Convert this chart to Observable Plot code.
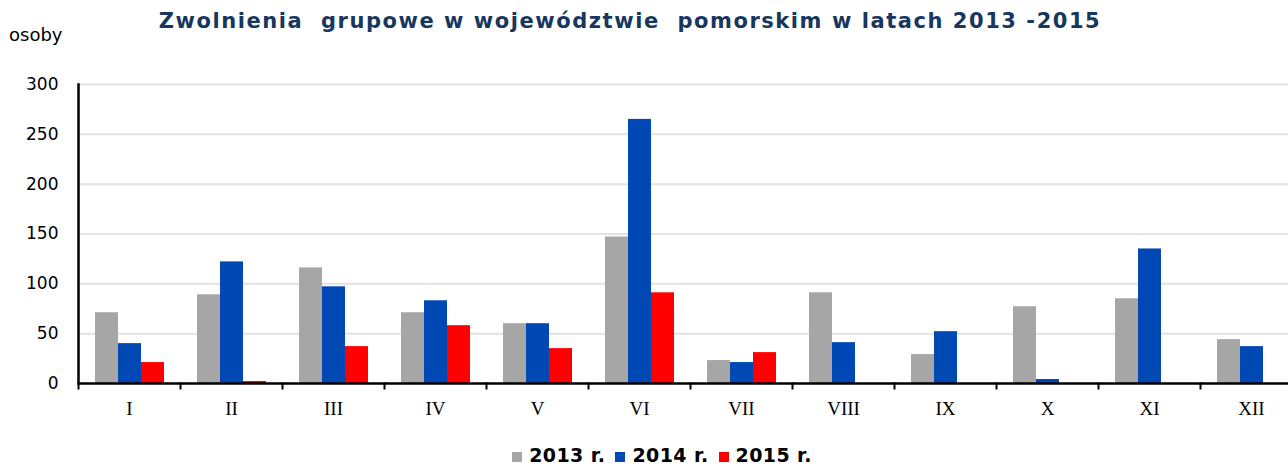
<!DOCTYPE html>
<html>
<head>
<meta charset="utf-8">
<script src="https://cdn.jsdelivr.net/npm/d3@7"></script>
<script src="https://cdn.jsdelivr.net/npm/@observablehq/plot@0.6"></script>
<style>
  html, body { margin: 0; padding: 0; background: #fff; overflow: hidden; }
  #wrap { position: relative; width: 1288px; height: 468px; overflow: hidden; }
  #title { position: absolute; left: 0; width: 1260px; top: 9px; text-align: center;
    font: bold 21px "DejaVu Sans", sans-serif; letter-spacing: 1.55px; color: #17375e; white-space: pre; }
  #unit { position: absolute; left: 9px; top: 24px; font: 18px "DejaVu Sans", sans-serif; color: #000; }
  #legend { position: absolute; left: 0; width: 1324px; top: 444px; text-align: center;
    font: bold 19px "DejaVu Sans", sans-serif; letter-spacing: 0.4px; color: #000; white-space: nowrap; }
  #legend span.item { margin: 0 5px; }
  #legend span.sw { display: inline-block; width: 10px; height: 10px; margin-right: 7px; }
  #chart { position: absolute; left: 0; top: 0; }
</style>
</head>
<body>
<div id="wrap">
  <div id="chart"></div>
  <div id="title"></div>
  <div id="unit"></div>
  <div id="legend"></div>
</div>
<script>
const titleText = "Zwolnienia  grupowe w województwie  pomorskim w latach 2013 -2015";
const unitText = "osoby";
const months = ["I","II","III","IV","V","VI","VII","VIII","IX","X","XI","XII"];
const years = ["2013 r.","2014 r.","2015 r."];
const colors = ["#a6a6a6","#0048b4","#ff0000"];
const v2013 = [71, 89, 116, 71, 60, 147, 23, 91, 29, 77, 85, 44];
const v2014 = [40, 122, 97, 83, 60, 265, 21, 41, 52, 4, 135, 37];
const v2015 = [21, 2, 37, 58, 35, 91, 31, null, null, null, null, null];
const yTicks = [0, 50, 100, 150, 200, 250, 300];

const series = [v2013, v2014, v2015];
const data = [];
months.forEach((m, i) => {
  years.forEach((y, j) => {
    data.push({month: m, year: y, value: series[j][i]});
  });
});

document.getElementById("title").textContent = titleText;
document.getElementById("unit").textContent = unitText;
document.getElementById("legend").innerHTML = years.map((y, j) =>
  `<span class="item"><span class="sw" style="background:${colors[j]}"></span>${y}</span>`).join("");

const chart = Plot.plot({
  width: 1288,
  height: 468,
  marginTop: 84,
  marginBottom: 85,
  marginLeft: 78,
  marginRight: -14,
  style: {background: "transparent", color: "#000"},
  fx: {domain: months, padding: 0},
  x: {domain: years, paddingInner: 0, paddingOuter: 0.69},
  y: {domain: [0, 300]},
  color: {domain: years, range: colors},
  marks: [
    Plot.gridY(yTicks.filter(d => d > 0), {stroke: "#e2e2e2", strokeOpacity: 1, strokeWidth: 2}),
    Plot.barY(data.filter(d => d.value != null), {fx: "month", x: "year", y: "value", fill: "year"}),
    Plot.ruleY([0], {stroke: "#000", strokeWidth: 2.5}),
    Plot.frame({anchor: "left", facetAnchor: "left", stroke: "#000", strokeWidth: 2.5}),
    Plot.frame({anchor: "left", insetTop: 299, insetBottom: -5, stroke: "#000", strokeWidth: 2}),
    Plot.axisY(yTicks, {tickSize: 0, tickPadding: 20, fontSize: 17, fontFamily: "DejaVu Sans", label: null}),
    Plot.axisFx({anchor: "bottom", tickSize: 0, tickPadding: 18, fontSize: 19, fontFamily: "Liberation Serif", letterSpacing: 2, label: null}),
    Plot.axisX({ticks: [], label: null, tickSize: 0})
  ]
});
document.getElementById("chart").appendChild(chart);
</script>
</body>
</html>
